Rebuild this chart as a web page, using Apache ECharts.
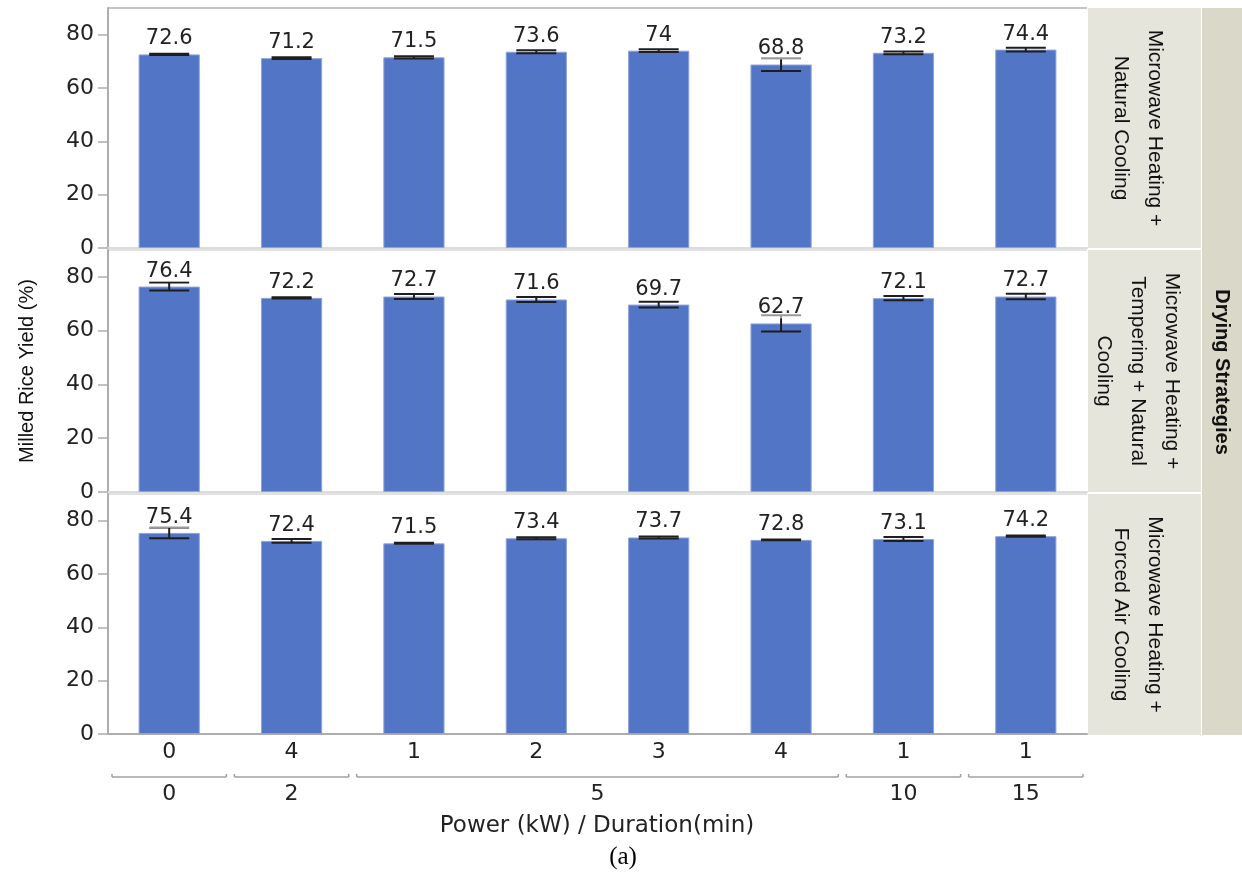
<!DOCTYPE html>
<html><head><meta charset="utf-8">
<script src="https://cdn.jsdelivr.net/npm/echarts@6/dist/echarts.min.js"></script>
<style>html,body{margin:0;padding:0;background:#fff}#c{width:1242px;height:878px}</style>
</head><body><div id="c"></div>
<script>
const categories = ['0','4','1','2','3','4','1','1'];
const groupLabels = ['0','2','5','10','15'];
const groupSpans = [1,1,4,1,1];
const panelNames = ['Microwave Heating +\nNatural Cooling','Microwave Heating +\nTempering + Natural\nCooling','Microwave Heating +\nForced Air Cooling'];
const outerStripName = 'Drying Strategies';
const yTicks = [0,20,40,60,80];
const topValues = [72.6,71.2,71.5,73.6,74,68.8,73.2,74.4];
const topErrors = [0.2,0.3,0.4,0.6,0.5,2.4,0.5,0.7];
const midValues = [76.4,72.2,72.7,71.6,69.7,62.7,72.1,72.7];
const midErrors = [1.5,0.2,0.95,0.95,1.05,3.0,0.8,1.0];
const botValues = [75.4,72.4,71.5,73.4,73.7,72.8,73.1,74.2];
const botErrors = [2.0,0.7,0.2,0.4,0.4,0.1,0.75,0.2];
const yTitle = 'Milled Rice Yield (%)';
const xTitle = 'Power (kW) / Duration(min)';
const caption = '(a)';

const panels = [[topValues,topErrors],[midValues,midErrors],[botValues,botErrors]];
const gridTops = [8,250,494];
const gridHeights = [240,242,240];
const BAR = '#5375c5';
const TXT = '#222';
const AX = '#adadad';

const chart = echarts.init(document.getElementById('c'), null, {renderer:'canvas'});

function errRender(params, api){
  const i = api.value(0), v = api.value(1), e = api.value(2);
  const pT = api.coord([i, v+e]), pB = api.coord([i, v-e]), pV = api.coord([i, v]);
  const x = pV[0], hw = 20;
  const st = {stroke:'#1e1e1e', lineWidth:2};
  return {type:'group', children:[
    {type:'line', shape:{x1:x,y1:pT[1],x2:x,y2:pB[1]}, style:st},
    {type:'line', shape:{x1:x-hw,y1:pT[1],x2:x+hw,y2:pT[1]}, style:st},
    {type:'line', shape:{x1:x-hw,y1:pB[1],x2:x+hw,y2:pB[1]}, style:st},
    {type:'text', x:x, y:pV[1]-5, z2:10, style:{text:String(v), font:'21px "DejaVu Sans"', fill:TXT,
      align:'center', verticalAlign:'bottom', backgroundColor:'rgba(255,255,255,0.55)'}}
  ]};
}

const groupStarts = [];
{let s=0; groupSpans.forEach(n=>{groupStarts.push(s); s+=n;});}

function bracketRender(params, api){
  const start = api.value(0), span = api.value(2);
  const bw = api.size([1,0])[0];
  const x0 = api.coord([start,0])[0] - bw/2 + 4;
  const x1 = api.coord([start+span-1,0])[0] + bw/2 - 4;
  const y0 = api.coord([start,0])[1] + 43;
  const st = {stroke:'#a0a0a0', lineWidth:1.5};
  return {type:'group', children:[
    {type:'line', shape:{x1:x0,y1:y0,x2:x1,y2:y0}, style:st},
    {type:'line', shape:{x1:x0,y1:y0,x2:x0,y2:y0-3}, style:st},
    {type:'line', shape:{x1:x1,y1:y0,x2:x1,y2:y0-3}, style:st},
    {type:'text', x:(x0+x1)/2, y:y0+17, style:{text:groupLabels[params.dataIndex], font:'22px "DejaVu Sans"', fill:TXT, align:'center', verticalAlign:'middle'}}
  ]};
}

const grids = [], xAxes = [], yAxes = [], series = [];
panels.forEach((p, k) => {
  grids.push({left:108, width:979, top:gridTops[k], height:gridHeights[k]});
  const last = k === 2;
  xAxes.push({type:'category', gridIndex:k, data:categories,
    axisLine:{show:true, lineStyle:{color: last ? AX : '#dcdcdc', width:2}},
    axisTick:{show:false},
    axisLabel:{show:last, fontSize:22, fontFamily:'DejaVu Sans', color:TXT, margin:7},
    splitLine:{show:false}});
  yAxes.push({type:'value', gridIndex:k, min:0, max:90, interval:20,
    axisLine:{show:true, lineStyle:{color:AX, width:2}},
    axisTick:{show:true, length:10, lineStyle:{color:AX, width:1.5}, customValues:yTicks},
    axisLabel:{fontSize:22, fontFamily:'DejaVu Sans', color:TXT, margin:14, customValues:yTicks},
    splitLine:{show:false}});
  series.push({type:'bar', xAxisIndex:k, yAxisIndex:k, data:p[0], barWidth:'50%',
    itemStyle:{color:BAR, borderColor:'#8ea3dc', borderWidth:1}, silent:true});
  series.push({type:'custom', xAxisIndex:k, yAxisIndex:k, z:5, silent:true,
    data:categories.map((c,i)=>[i, p[0][i], p[1][i]]), encode:{x:0,y:1}, renderItem:errRender});
});
series.push({type:'custom', xAxisIndex:2, yAxisIndex:2, silent:true,
  data:groupStarts.map((s,i)=>[s, 0, groupSpans[i]]), encode:{x:0,y:1}, renderItem:bracketRender});

const graphic = [];
graphic.push({type:'rect', shape:{x:1202,y:8,width:40,height:727}, style:{fill:'#dad8c8'}, silent:true});
const stripYs = [[8,248],[250,492],[494,735]];
stripYs.forEach((s,k)=>{
  graphic.push({type:'rect', shape:{x:1088,y:s[0],width:113,height:s[1]-s[0]}, style:{fill:'#e6e5dc'}, silent:true});
  graphic.push({type:'text', x:1138, y:(s[0]+s[1])/2, rotation:-Math.PI/2, silent:true,
    style:{text:panelNames[k], font:'21px "Liberation Sans"', fill:'#111', align:'center', verticalAlign:'middle', lineHeight:34}});
});
graphic.push({type:'text', x:1222, y:372, rotation:-Math.PI/2, silent:true,
  style:{text:outerStripName, font:'bold 20px "Liberation Sans"', fill:'#111', align:'center', verticalAlign:'middle'}});
graphic.push({type:'line', shape:{x1:108,y1:8,x2:1087,y2:8}, style:{stroke:'#c6c6c6', lineWidth:2}, silent:true});
graphic.push({type:'line', shape:{x1:108,y1:250,x2:1087,y2:250}, style:{stroke:'#e2e2e2', lineWidth:2}, silent:true});
graphic.push({type:'line', shape:{x1:108,y1:494,x2:1087,y2:494}, style:{stroke:'#e2e2e2', lineWidth:2}, silent:true});
graphic.push({type:'text', x:27, y:371, rotation:Math.PI/2, silent:true,
  style:{text:yTitle, font:'20px "Liberation Sans"', fill:'#111', align:'center', verticalAlign:'middle'}});
graphic.push({type:'text', x:597, y:826, silent:true,
  style:{text:xTitle, font:'23px "DejaVu Sans"', fill:TXT, align:'center', verticalAlign:'middle'}});
graphic.push({type:'text', x:623, y:857, silent:true,
  style:{text:caption, font:'25px "Liberation Serif"', fill:'#000', align:'center', verticalAlign:'middle'}});

chart.setOption({animation:false, backgroundColor:'#fff', grid:grids, xAxis:xAxes, yAxis:yAxes, series:series, graphic:graphic});
</script></body></html>
